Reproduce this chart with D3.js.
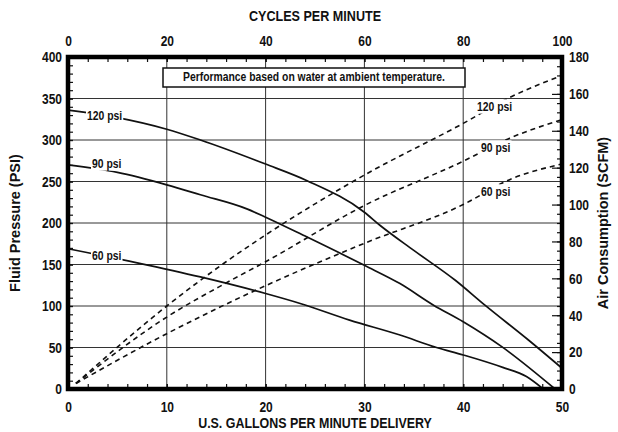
<!DOCTYPE html>
<html>
<head>
<meta charset="utf-8">
<script src="https://cdn.jsdelivr.net/npm/d3@7"></script>
<style>
  body { margin: 0; background: #fff; }
  svg text { font-family: "Liberation Sans", Arial, sans-serif; font-weight: bold; fill: #111; }
</style>
</head>
<body>
<div id="chart"></div>
<script>
// tick labels
const gpmTicks = [0, 10, 20, 30, 40, 50]
const cycleTicks = [0, 20, 40, 60, 80, 100]
const psiTicks = [0, 50, 100, 150, 200, 250, 300, 350, 400]
const scfmTicks = [0, 20, 40, 60, 80, 100, 120, 140, 160, 180]

// fluid pressure (psi) vs gpm, solid curves
const fluid120 = [[0,336],[5,327],[10,313],[13.4,300],[20,271],[24.2,251],[30,213],[31.6,197],[35,167],[39.2,131],[42.2,101],[46.6,59],[50,25]]
const fluid90 = [[0,270],[5,261],[10,246],[13.4,234],[18.1,217],[20,207],[24.2,183],[30,149],[33.6,127],[37,101],[40,81],[43.9,51],[49.3,0]]
const fluid60 = [[0,169],[7,152],[13.4,135],[20,115],[23.5,103],[28.5,83],[33.6,65],[37.3,50],[40,41],[44,26],[46.4,15],[48.1,0]]

// air consumption (scfm) vs gpm, dashed curves
const air120 = [[0.8,3],[10,45],[16,69],[20,83.5],[30,116],[40,144],[44.7,158],[50,170]]
const air90 = [[0.8,3],[10,39],[16,57.5],[20,69],[30,99.5],[40,123.5],[44.7,136],[50,146]]
const air60 = [[0.8,3],[10,30],[16,46],[20,56],[30,79],[40,100],[44.7,113.5],[50,122]]

const width = 618
const height = 432
const mLeft = 68, mRight = 562, mTop = 57, mBottom = 389

const svg = d3.select('#chart').append('svg')
    .attr('width', width)
    .attr('height', height)

const x = d3.scaleLinear().domain([0, 50]).range([mLeft, mRight])
const xTop = d3.scaleLinear().domain([0, 100]).range([mLeft, mRight])
const y = d3.scaleLinear().domain([0, 400]).range([mBottom, mTop])
const yR = d3.scaleLinear().domain([0, 180]).range([mBottom, mTop])

// narrow the glyphs horizontally (the original uses a condensed face)
const squeeze = (sel, s) => {
    sel.each(function () {
        const t = d3.select(this)
        const tx = +t.attr('x') || 0, ty = +t.attr('y') || 0
        const prev = t.attr('transform') || ''
        t.attr('x', 0).attr('y', 0)
            .attr('transform', `${prev} translate(${tx},${ty}) scale(${s},1)`)
    })
}

// grid
svg.append('g').selectAll('line')
    .data([10, 20, 30, 40])
    .join('line')
    .attr('x1', d => x(d)).attr('x2', d => x(d))
    .attr('y1', mTop).attr('y2', mBottom)
    .attr('stroke', '#333').attr('stroke-width', 1)
svg.append('g').selectAll('line')
    .data(psiTicks.slice(1, -1))
    .join('line')
    .attr('x1', mLeft).attr('x2', mRight)
    .attr('y1', d => y(d)).attr('y2', d => y(d))
    .attr('stroke', '#333').attr('stroke-width', 1)

// axes with inward ticks
const styleAxis = g => {
    g.select('.domain').remove()
    g.selectAll('line').attr('stroke', '#111').attr('stroke-width', 1.2)
    g.selectAll('text').attr('font-size', 15).call(squeeze, 0.8)
}
svg.append('g').attr('transform', `translate(0,${mBottom})`)
    .call(d3.axisBottom(x).tickValues(d3.range(0, 51, 2)).tickSize(-5).tickFormat(''))
    .call(styleAxis)
svg.append('g').attr('transform', `translate(0,${mBottom})`)
    .call(d3.axisBottom(x).tickValues(gpmTicks).tickSize(-5).tickPadding(12))
    .call(styleAxis)
svg.append('g').attr('transform', `translate(0,${mTop})`)
    .call(d3.axisTop(xTop).tickValues(d3.range(0, 101, 4)).tickSize(-5).tickFormat(''))
    .call(styleAxis)
svg.append('g').attr('transform', `translate(0,${mTop})`)
    .call(d3.axisTop(xTop).tickValues(cycleTicks).tickSize(-5).tickPadding(11))
    .call(styleAxis)
svg.append('g').attr('transform', `translate(${mLeft},0)`)
    .call(d3.axisLeft(y).tickValues(d3.range(0, 401, 10)).tickSize(-5).tickFormat(''))
    .call(styleAxis)
svg.append('g').attr('transform', `translate(${mLeft},0)`)
    .call(d3.axisLeft(y).tickValues(psiTicks).tickSize(-5).tickPadding(6))
    .call(styleAxis)
svg.append('g').attr('transform', `translate(${mRight},0)`)
    .call(d3.axisRight(yR).tickValues(d3.range(0, 181, 5)).tickSize(-5).tickFormat(''))
    .call(styleAxis)
svg.append('g').attr('transform', `translate(${mRight},0)`)
    .call(d3.axisRight(yR).tickValues(scfmTicks).tickSize(-10).tickPadding(7))
    .call(styleAxis)

// curves
const line = d3.line().x(d => x(d[0])).y(d => y(d[1])).curve(d3.curveMonotoneX)
const airLine = d3.line().x(d => x(d[0])).y(d => yR(d[1])).curve(d3.curveMonotoneX)

for (const s of [fluid120, fluid90, fluid60]) {
    svg.append('path').attr('d', line(s))
        .attr('fill', 'none').attr('stroke', '#111').attr('stroke-width', 1.7)
}
for (const s of [air120, air90, air60]) {
    svg.append('path').attr('d', airLine(s))
        .attr('fill', 'none').attr('stroke', '#111').attr('stroke-width', 1.6)
        .attr('stroke-dasharray', '5,4')
}

// frame
svg.append('rect')
    .attr('x', mLeft).attr('y', mTop)
    .attr('width', mRight - mLeft).attr('height', mBottom - mTop)
    .attr('fill', 'none').attr('stroke', '#000').attr('stroke-width', 4.5)

// curve labels with white background
const label = (px, py, txt) => {
    const g = svg.append('g')
    const t = g.append('text').attr('x', px).attr('y', py)
        .attr('dominant-baseline', 'middle')
        .attr('font-size', 13).text(txt)
        .call(squeeze, 0.8)
    const b = t.node().getBBox()
    g.insert('rect', 'text')
        .attr('x', px - 1).attr('y', py + b.y)
        .attr('width', b.width * 0.8 + 2).attr('height', b.height)
        .attr('fill', '#fff')
}
label(87, 117, '120 psi')
label(92, 165, '90 psi')
label(92, 257, '60 psi')
label(477, 108, '120 psi')
label(481, 149, '90 psi')
label(481, 193, '60 psi')

// note box
svg.append('rect')
    .attr('x', 163).attr('y', 68).attr('width', 302).attr('height', 19)
    .attr('fill', '#fff').attr('stroke', '#111').attr('stroke-width', 1.5)
svg.append('text')
    .attr('x', 314).attr('y', 78).attr('text-anchor', 'middle')
    .attr('dominant-baseline', 'middle').attr('font-size', 12.5)
    .text('Performance based on water at ambient temperature.')
    .call(squeeze, 0.83)

// axis titles
svg.append('text').attr('x', (mLeft + mRight) / 2).attr('y', 17)
    .attr('text-anchor', 'middle').attr('dominant-baseline', 'middle')
    .attr('font-size', 15).text('CYCLES PER MINUTE')
    .call(squeeze, 0.84)
svg.append('text').attr('x', (mLeft + mRight) / 2).attr('y', 424)
    .attr('text-anchor', 'middle').attr('dominant-baseline', 'middle')
    .attr('font-size', 15).text('U.S. GALLONS PER MINUTE DELIVERY')
    .call(squeeze, 0.83)
svg.append('text')
    .attr('transform', `translate(16,${(mTop + mBottom) / 2}) rotate(-90)`)
    .attr('text-anchor', 'middle').attr('dominant-baseline', 'middle')
    .attr('font-size', 14.5).text('Fluid Pressure (PSI)')
svg.append('text')
    .attr('transform', `translate(604,${(mTop + mBottom) / 2}) rotate(-90)`)
    .attr('text-anchor', 'middle').attr('dominant-baseline', 'middle')
    .attr('font-size', 14.5).text('Air Consumption (SCFM)')
</script>
</body>
</html>
